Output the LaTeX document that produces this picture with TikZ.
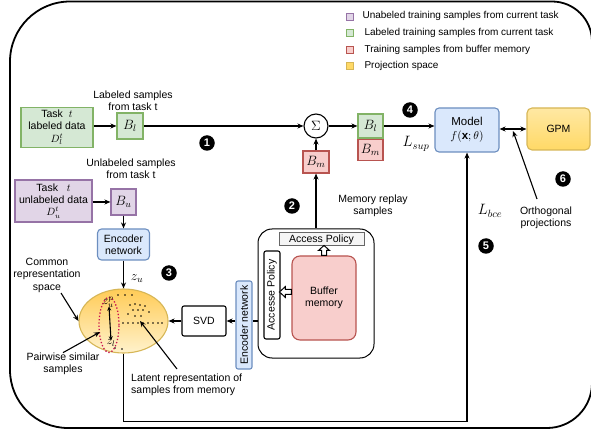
\RequirePackage{fix-cm}
\documentclass[tikz,border=0pt]{standalone}
\usepackage{fontspec}
\setmainfont{Liberation Sans}
\usetikzlibrary{arrows.meta,calc,shapes.geometric}
\definecolor{gfill}{HTML}{D5E8D4}\definecolor{gline}{HTML}{82B366}
\definecolor{pfill}{HTML}{E1D5E7}\definecolor{pline}{HTML}{9673A6}
\definecolor{rfill}{HTML}{F8CECC}\definecolor{rline}{HTML}{B85450}
\definecolor{yfill}{HTML}{FFF2CC}\definecolor{yline}{HTML}{D6B656}\definecolor{ydark}{HTML}{FFD966}
\definecolor{bfill}{HTML}{DAE8FC}\definecolor{bline}{HTML}{6C8EBF}
\definecolor{apfill}{HTML}{F5F5F5}\definecolor{apline}{HTML}{666666}
\definecolor{zred}{HTML}{C8104E}
\tikzset{
  base/.style={draw, line width=1.1pt, inner sep=1pt, align=center},
  gbox/.style={base, draw=gline, fill=gfill},
  pbox/.style={base, draw=pline, fill=pfill},
  rbox/.style={base, draw=rline, fill=rfill},
  bbox/.style={base, draw=bline, fill=bfill, rounded corners=4pt},
  mathbox/.style={font=\fontsize{13.5}{14}\selectfont},
  legsq/.style={draw, line width=0.9pt, minimum size=7pt, inner sep=0pt},
  numdot/.style={circle, fill=black, text=white, inner sep=0pt, minimum size=15.5pt, font=\fontsize{11}{11}\selectfont\bfseries},
  conn/.style={line width=1.1pt, -{Stealth[length=6pt,width=5pt]}},
  lbl/.style={align=center, inner sep=0pt},
  hollow/.style={draw, fill=white, line width=1pt},
  dotp/.style={fill=black, radius=0.8pt},
  taskbox/.style={font=\fontsize{10.5}{12}\selectfont, inner sep=0pt}
}
\begin{document}
\begin{tikzpicture}[x=1pt,y=-1pt,font=\fontsize{10.5}{12.5}\selectfont]
\useasboundingbox (0,0) rectangle (591,435);
% outer frame
\draw[line width=1.8pt] (10,200) {[rounded corners=60pt] -- (10,1.5) -- (300,1.5)} {[rounded corners=40pt] -- (592,1.5) -- (592,200)} {[rounded corners=45pt] -- (592,428) -- (300,428)} {[rounded corners=58pt] -- (10,428) -- (10,200)};

% legend
\node[legsq, draw=pline, fill=pfill] (lg1) at (350,17) {};
\node[legsq, draw=gline, fill=gfill] (lg2) at (350,33) {};
\node[legsq, draw=rline, fill=rfill] (lg3) at (350,50) {};
\node[legsq, draw=yline, fill=ydark] (lg4) at (350,66) {};
\node[anchor=west, font=\fontsize{10}{12}\selectfont] (lt1) at (359,16) {Unabeled training samples from current task};
\node[anchor=west, font=\fontsize{10}{12}\selectfont] (lt2) at (361,32.5) {Labeled training samples from current task};
\node[anchor=west, font=\fontsize{10}{12}\selectfont] (lt3) at (361,49.5) {Training samples from buffer memory};
\node[anchor=west, font=\fontsize{10}{12}\selectfont] (lt4) at (361,66) {Projection space};

% labeled path
\node[gbox, taskbox, minimum width=72pt, minimum height=40pt] (tl) at (57,127.5) {Task\ \ $t$\\labeled data\\[0.5pt]$D_l^t$};
\node[gbox, mathbox, minimum width=26pt, minimum height=26pt] (bl) at (130,126) {$B_l$};
\node[lbl] (lbltxt) at (133,100.5) {Labeled samples\\from task t};
\draw[conn] (tl.east|-bl) -- (bl.west);
\node[circle, draw, line width=1.1pt, minimum size=24pt, inner sep=0pt, mathbox] (sum) at (316,126) {$\Sigma$};
\draw[conn] (bl.east) -- (sum.west);
\node[rbox, mathbox, minimum width=26pt, minimum height=22pt] (bm) at (316,162) {$B_m$};
\draw[conn] (bm.north) -- (sum.south);
\node[gbox, mathbox, minimum width=25pt, minimum height=24pt] (bls) at (370.5,126) {$B_l$};
\node[rbox, mathbox, minimum width=25pt, minimum height=21pt, anchor=north] (bms) at (bls.south) {$B_m$};
\draw[conn] (sum.east) -- (bls.west);
\node[bbox, minimum width=64pt, minimum height=44pt, font=\fontsize{11.5}{14.5}\selectfont] (model) at (467,130) {Model\\$f(\mathbf{x};\theta)$};
\draw[conn] (bls.east) -- (bls.east -| model.west);
\node[base, draw=yline, top color=yfill!60!ydark, bottom color=ydark, rounded corners=5pt, minimum width=63pt, minimum height=42pt] (gpm) at (558.5,129) {GPM};
\draw[line width=1.1pt, {Stealth[length=6pt,width=5pt]}-{Stealth[length=6pt,width=5pt]}] (model.east|-gpm) -- (gpm.west);
\node[lbl] (orth) at (546,218) {Orthogonal\\projections};
\coordinate (otail) at (537,199);
\coordinate (ohead) at (513,131);
\draw[conn] (otail) -- (ohead);
\node[lbl, font=\fontsize{15}{15}\selectfont] (lsup) at (416,144) {$L_{sup}$};
\node[lbl, font=\fontsize{15}{15}\selectfont] (lbce) at (490,211) {$L_{bce}$};
\node[lbl] (mrs) at (373,206) {Memory replay\\samples};

% unlabeled path
\node[lbl] (ultxt) at (131,168.5) {Unlabeled samples\\from task t};
\node[pbox, taskbox, minimum width=77pt, minimum height=42pt] (tu) at (53.5,201) {Task\ \ \ $t$\\unlabeled data\\[0.5pt]$D_u^t$};
\node[pbox, mathbox, minimum width=25pt, minimum height=26pt] (bu) at (123.5,202) {$B_u$};
\draw[conn] (tu.east|-bu) -- (bu.west);
\node[bbox, minimum width=52pt, minimum height=31pt] (enc) at (123.5,244.5) {Encoder\\network};
\draw[conn] (bu.south) -- (enc.north);
\node[ellipse, draw=yline, line width=1.1pt, top color=ydark!85!orange, bottom color=yfill, minimum width=89pt, minimum height=64pt] (ell) at (123.5,321) {};
\draw[conn] (enc.south) -- (ell.north);
\node[lbl, mathbox] (zu) at (137,279) {$z_u$};
% dots
\foreach \p in {(118,295),(125,295),(132,295),(130,305),(135,304),(140,305),(145,306),(133,310),(138,310),(143,310),(149,312),(128,314),(135,316),(141,316),(123,323),(128,323),(133,323),(138,323),(143,323),(148,323),(153,323),(158,323),(162,323),(115,348),(122,349)}
  \fill[dotp] \p circle[radius=0.8pt];
\node[ellipse, draw=zred, dotted, line width=1.3pt, minimum width=20pt, minimum height=55pt, inner sep=0pt] (zell) at (109,325) {};
\node[lbl, font=\fontsize{12}{12}\selectfont] (zp) at (108,302) {$z_u^p$};
\node[lbl, font=\fontsize{12}{12}\selectfont] (zl) at (111,343) {$z_l$};
\draw[line width=1.1pt, {Stealth[length=4pt,width=4pt]}-{Stealth[length=4pt,width=4pt]}] ([xshift=1pt,yshift=1pt]zp.south) -- ([yshift=-1pt]zl.north);

\node[lbl] (crs) at (47,275) {Common\\representation\\space};
\coordinate (ct1) at (61,293);
\draw[conn] (ct1) -- (ell.west);
\node[lbl] (pws) at (63,364) {Pairwise similar\\samples};
\coordinate (pwh) at (100,332);
\draw[conn] (pws.north) -- (pwh);
\node[lbl, anchor=west, align=left] (lat) at (131,385) {Latent representation of\\samples from memory};
\coordinate (lattail) at (177,369);
\coordinate (lathead) at (140,321);
\draw[conn] (lattail) -- (lathead);

\node[base, rounded corners=2pt, minimum width=44pt, minimum height=30pt] (svd) at (204,321) {SVD};
\draw[conn] (svd.west) -- (ell.east|-svd);
\node[bbox, rounded corners=2pt, minimum width=88pt, minimum height=16pt, inner sep=0pt, rotate=90] (venc) at (244,325) {Encoder network};
\draw[conn] (venc.north|-svd) -- (svd.east);

% memory
\node[draw, line width=1pt, rounded corners=14pt, minimum width=116pt, minimum height=129pt] (mem) at (316,293.5) {};
\draw[line width=1.1pt] (mem.west|-svd) -- (venc.south|-svd);
\node[draw=apline, fill=apfill, line width=1pt, minimum width=85pt, minimum height=13pt, inner sep=0pt] (aph) at (321.5,239.5) {Access Policy};
\node[draw, line width=1.1pt, rounded corners=2pt, minimum width=88pt, minimum height=16pt, inner sep=0pt, rotate=90] (apv) at (272,295) {Accesse Policy};
\node[rbox, rounded corners=8pt, minimum width=64pt, minimum height=84pt] (buf) at (324,298) {Buffer\\memory};
\draw[hollow, shift={(buf.north)}] (-2.5,0) -- (-2.5,-5) -- (-5.5,-5) -- (0,-10) -- (5.5,-5) -- (2.5,-5) -- (2.5,0) -- cycle;
\draw[hollow, shift={(buf.west|-0,292)}] (0,-2.5) -- (-6,-2.5) -- (-6,-5.5) -- (-12,0) -- (-6,5.5) -- (-6,2.5) -- (0,2.5) -- cycle;
\draw[conn] (mem.north-|bm) -- (bm.south);

% bottom loop
\draw[conn] (ell.south) -- ++(0,68) -| (model.south);

% markers
\node[numdot] (n1) at (207,143) {1};
\node[numdot] (n2) at (292,206) {2};
\node[numdot] (n3) at (169,273) {3};
\node[numdot] (n4) at (410,110) {4};
\node[numdot] (n5) at (486,246) {5};
\node[numdot] (n6) at (563,179) {6};
\end{tikzpicture}
\end{document}
